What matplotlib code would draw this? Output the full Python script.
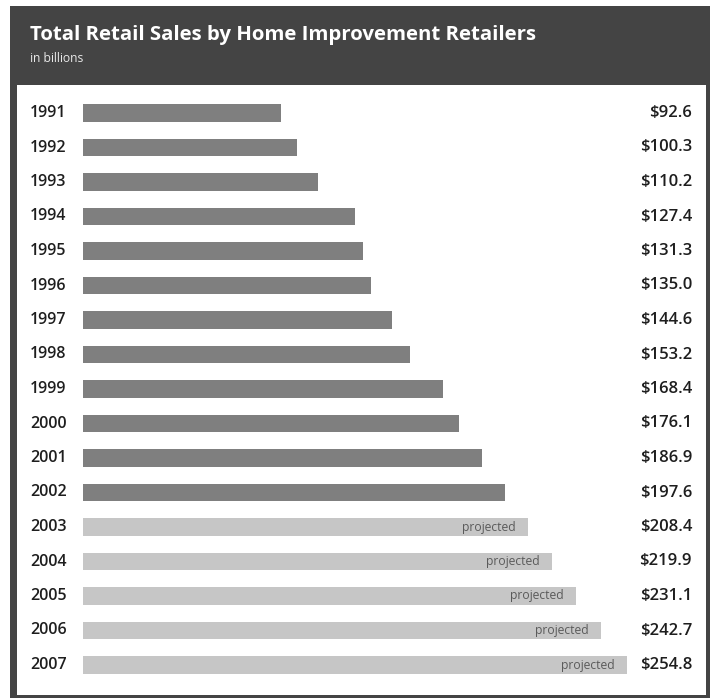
import matplotlib
matplotlib.use("Agg")
import matplotlib.pyplot as plt
from matplotlib.patches import Rectangle

years = ["1991", "1992", "1993", "1994", "1995", "1996", "1997", "1998", "1999",
         "2000", "2001", "2002", "2003", "2004", "2005", "2006", "2007"]
sales = [92.6, 100.3, 110.2, 127.4, 131.3, 135.0, 144.6, 153.2, 168.4,
         176.1, 186.9, 197.6, 208.4, 219.9, 231.1, 242.7, 254.8]
projected = [False] * 12 + [True] * 5

title = "Total Retail Sales by Home Improvement Retailers"
subtitle = "in billions"

W, H = 715, 698
fig = plt.figure(figsize=(W / 100, H / 100), dpi=100)
fig.patch.set_facecolor("white")

def fx(px):
    return px / W

def fy(py):
    return 1 - py / H

# dark frame
fig.add_artist(Rectangle((fx(10), fy(698)), fx(700), 692 / H, transform=fig.transFigure,
                         facecolor="#444444", edgecolor="none", zorder=0))

# inner white panel axes
left, right, top, bottom = 17, 706, 85, 695
ax = fig.add_axes([fx(left), fy(bottom), (right - left) / W, (bottom - top) / H])
ax.set_facecolor("white")
for s in ax.spines.values():
    s.set_visible(False)
ax.set_xticks([])
ax.set_yticks([])

scale = 2.135  # px per unit
x0 = 83
ax.set_xlim(-(x0 - left) / scale, (right - x0) / scale)
row0, step = 113, 34.5
ax.set_ylim((bottom - row0) / step, (top - row0) / step)

font = "Open Sans"
ypos = list(range(len(years)))
colors = ["#c6c6c6" if p else "#7f7f7f" for p in projected]
ax.barh(ypos, sales, height=0.5, color=colors, edgecolor="none")

xl = -(x0 - 30) / scale
xr = (692 - x0) / scale
for i, (yr, v, p) in enumerate(zip(years, sales, projected)):
    ax.text(xl, i, yr, ha="left", va="center", fontsize=11.5, fontweight="semibold",
            color="#1e1e1e", family=font)
    ax.text(xr, i, f"${v:.1f}", ha="right", va="center", fontsize=12,
            fontweight="semibold", color="#1e1e1e", family=font)
    if p:
        ax.annotate("projected", xy=(v, i), xytext=(-9, 0), textcoords="offset points",
                    ha="right", va="center", fontsize=8.7, color="#5a5a5a", family=font)

fig.text(fx(30), fy(35), title, ha="left", va="center", fontsize=14.7, fontweight="bold",
         color="white", family=font)
fig.text(fx(30), fy(58), subtitle, ha="left", va="center", fontsize=8.7,
         color="#e8e8e8", family=font)

fig.savefig("out.png", dpi=100, facecolor="white")
